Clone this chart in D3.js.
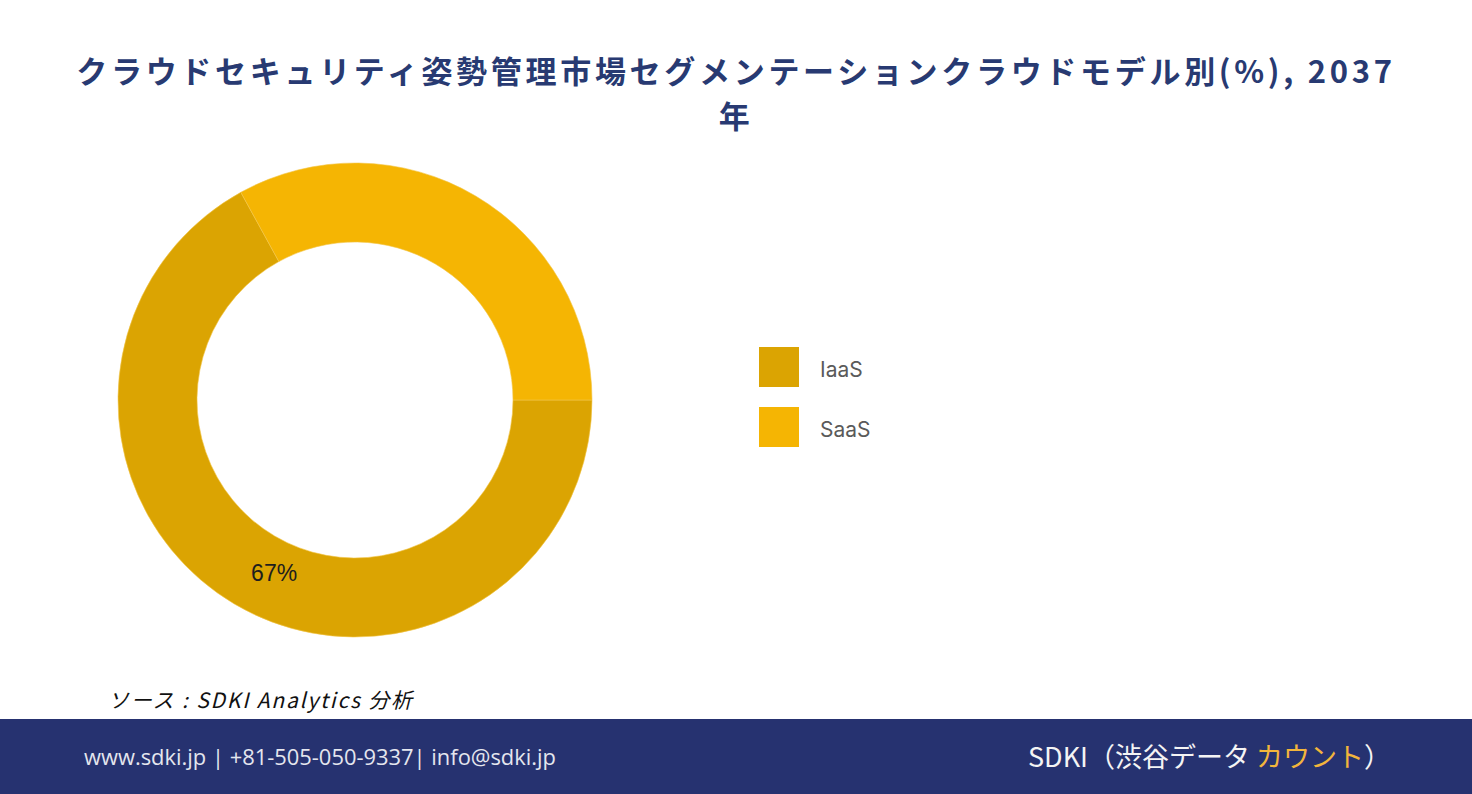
<!DOCTYPE html>
<html>
<head>
<meta charset="utf-8">
<script src="https://cdn.jsdelivr.net/npm/d3@7"></script>
<style>
  body { margin: 0; background: #fff; }
  svg { display: block; }
</style>
</head>
<body>
<svg id="chart" width="1472" height="794"></svg>
<script>
// data
var categories = ["IaaS", "SaaS"];
var shares = [67, 33];
var colors = ["#dba402", "#f5b503"];
var titleLines = ["クラウドセキュリティ姿勢管理市場セグメンテーションクラウドモデル別(%), 2037", "年"];

var w = 1472, h = 794;
var svg = d3.select("#chart");

// title, one text with a tspan per line
var title = svg.append("text")
   .attr("class", "title")
   .attr("text-anchor", "middle")
   .style("font-family", "'Noto Sans CJK JP', 'Noto Sans', sans-serif")
   .style("font-weight", "bold")
   .style("font-size", "31px")
   .style("letter-spacing", "3.7px")
   .style("fill", "#283a72");
title.selectAll("tspan")
   .data(titleLines)
   .enter()
   .append("tspan")
   .attr("x", 736)
   .attr("y", function(d, i) { return 83 + i * 45; })
   .text(function(d) { return d; });

// donut
var cx = 355, cy = 400;
var pie = d3.pie()
    .sort(null)
    .value(function(d) { return d; })
    .startAngle(Math.PI / 2)
    .endAngle(Math.PI / 2 + 2 * Math.PI);
var arc = d3.arc().innerRadius(158).outerRadius(237);

var g = svg.append("g").attr("transform", "translate(" + cx + "," + cy + ")");
var arcs = pie(shares);

g.selectAll("path.slice")
 .data(arcs)
 .enter()
 .append("path")
 .attr("class", "slice")
 .attr("d", arc)
 .attr("fill", function(d, i) { return colors[i]; })
 .attr("stroke", "#f3c64a")
 .attr("stroke-width", 0.6);

// only the big slice gets a label, as in the original
var labelArc = d3.arc().innerRadius(191).outerRadius(191);
g.selectAll("text.pct")
 .data(arcs.filter(function(d) { return d.data > 50; }))
 .enter()
 .append("text")
 .attr("class", "pct")
 .attr("transform", function(d) {
     // label sits a bit before the middle of the slice
     var a = { startAngle: d.startAngle, endAngle: d.startAngle + (d.endAngle - d.startAngle) * 0.954 };
     var c = labelArc.centroid(a);
     return "translate(" + c[0] + "," + c[1] + ")";
 })
 .attr("text-anchor", "middle")
 .attr("dy", "0.35em")
 .style("font-family", "Arial, 'Liberation Sans', sans-serif")
 .style("font-size", "23px")
 .style("fill", "#1e1e1e")
 .text(function(d) { return d.data + "%"; });

// legend
var legend = svg.selectAll("g.legend")
    .data(categories)
    .enter()
    .append("g")
    .attr("class", "legend")
    .attr("transform", function(d, i) { return "translate(759," + (347 + i * 60) + ")"; });

legend.append("rect")
      .attr("width", 40)
      .attr("height", 40)
      .attr("fill", function(d, i) { return colors[i]; });

legend.append("text")
      .attr("x", 61)
      .attr("y", 23)
      .attr("dy", "0.35em")
      .style("font-family", "Inter, 'Noto Sans', sans-serif")
      .style("font-size", "21px")
      .style("fill", "#5a5a5a")
      .text(function(d) { return d; });

// source
svg.append("text")
   .attr("x", 108)
   .attr("y", 708)
   .attr("textLength", 304)
   .attr("lengthAdjust", "spacing")
   .style("font-family", "'Noto Sans CJK JP', 'Liberation Sans', sans-serif")
   .style("font-style", "italic")
   .style("font-size", "21px")
   .style("fill", "#111")
   .text("ソース : SDKI Analytics  分析");

// footer band
svg.append("rect")
   .attr("x", 0)
   .attr("y", 719)
   .attr("width", w)
   .attr("height", h - 719)
   .attr("fill", "#263270");

svg.append("text")
   .attr("x", 84)
   .attr("y", 765)
   .attr("textLength", 472)
   .attr("lengthAdjust", "spacingAndGlyphs")
   .style("font-family", "'Open Sans', 'Noto Sans', sans-serif")
   .style("font-size", "21px")
   .style("fill", "#e4e6ee")
   .text("www.sdki.jp | +81-505-050-9337| info@sdki.jp");

var brand = svg.append("text")
   .attr("x", 1028)
   .attr("y", 767)
   .style("font-family", "'Noto Sans CJK JP', 'Noto Sans', sans-serif")
   .style("font-size", "27px")
   .style("fill", "#f4f4f4");
brand.append("tspan").text("SDKI（渋谷データ ");
brand.append("tspan").style("fill", "#f2b53c").text("カウント");
brand.append("tspan").text("）");
</script>
</body>
</html>
